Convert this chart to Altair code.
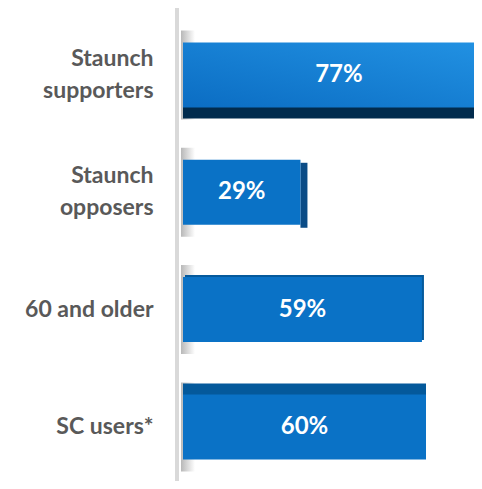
import altair as alt
import pandas as pd

categories = ["Staunch supporters", "Staunch opposers", "60 and older", "SC users*"]
values = [77, 29, 59, 60]
value_labels = ["77%", "29%", "59%", "60%"]

df = pd.DataFrame({"category": categories, "value": values, "label": value_labels})

PLOT_W = 291
PX_PER_PCT = 4.05
X_MAX = PLOT_W / PX_PER_PCT
x_scale = alt.Scale(domain=[0, X_MAX], nice=False, zero=True)

y_enc = alt.Y(
    "category:N",
    sort=categories,
    scale=alt.Scale(paddingInner=0.446, paddingOuter=0.192, align=0.765),
    axis=alt.Axis(
        title=None, domain=False, ticks=False, tickSize=0, grid=False,
        labelPadding=30, labelFont="Lato", labelFontSize=23, labelFontWeight="bold",
        labelColor="#595959", labelLineHeight=32, labelLimit=200,
        labelOffset={"condition": {"test": "indexof(datum.value, 'Staunch') == 0", "value": -16}, "value": 0},
        labelExpr="indexof(datum.label, 'Staunch') == 0 ? split(datum.label, ' ') : datum.label",
    ),
)

base = alt.Chart(df)

# axis line
axis_line = base.mark_rule(color="#d9d9d9", strokeWidth=4).encode(
    x=alt.value(-6), y=alt.value(-1), y2=alt.value(473)
)

# soft shadows at the left end of each bar
shadow_grad = alt.Gradient(
    gradient="linear",
    stops=[alt.GradientStop(color="#a6a6a6", offset=0), alt.GradientStop(color="#ffffff", offset=1)],
    x1=0, x2=1, y1=0, y2=0,
)
shadows = base.mark_bar(color=shadow_grad, height=89, opacity=0.8).encode(
    x=alt.value(-2), x2=alt.value(12), y=y_enc
)

# 3D extrusion styles per category (dark faces)
dark_styles = {
    "Staunch supporters": dict(color="#012b4d", yOffset=11),
    "Staunch opposers": dict(color="#0b4c86", yOffset=3, x2Offset=7),
    "60 and older": dict(color="#055a9c", yOffset=-2, xOffset=2),
    "SC users*": dict(color="#04599b", yOffset=-11),
}

layers = [axis_line, shadows]
for cat in categories:
    st = dark_styles[cat]
    sub = base.transform_filter(alt.datum.category == cat)
    if cat == "Staunch opposers":
        dark = sub.mark_bar(clip=True, **st).encode(
            x=alt.X("value:Q", scale=x_scale, axis=None),
            x2="value:Q",
            y=y_enc,
        )
    else:
        dark = sub.mark_bar(clip=True, **st).encode(
            x=alt.X("value:Q", scale=x_scale, axis=None),
            y=y_enc,
        )
    layers.append(dark)

grad = alt.Gradient(
    gradient="linear",
    stops=[alt.GradientStop(color="#0b6dc3", offset=0), alt.GradientStop(color="#2292e3", offset=1)],
    x1=0, x2=1, y1=1, y2=0,
)

for cat in categories:
    sub = base.transform_filter(alt.datum.category == cat)
    col = grad if cat == "Staunch supporters" else "#0a72c6"
    face = sub.mark_bar(clip=True, color=col).encode(
        x=alt.X("value:Q", scale=x_scale, axis=None),
        y=y_enc,
    )
    layers.append(face)

text = base.transform_calculate(mid="datum.value / 2").mark_text(
    color="white", font="Lato", fontSize=24, fontWeight="bold", baseline="middle", align="center"
).encode(
    x=alt.X("mid:Q", scale=x_scale, axis=None),
    y=y_enc,
    text="label:N",
)
layers.append(text)

chart = alt.layer(*layers).properties(
    width=PLOT_W,
    height=462,
    autosize=alt.AutoSizeParams(type="none"),
    padding={"left": 175, "top": 0, "right": 0, "bottom": 11},
).configure_view(stroke=None)

chart.save("out.html", embed_options={"renderer": "svg", "actions": False})
